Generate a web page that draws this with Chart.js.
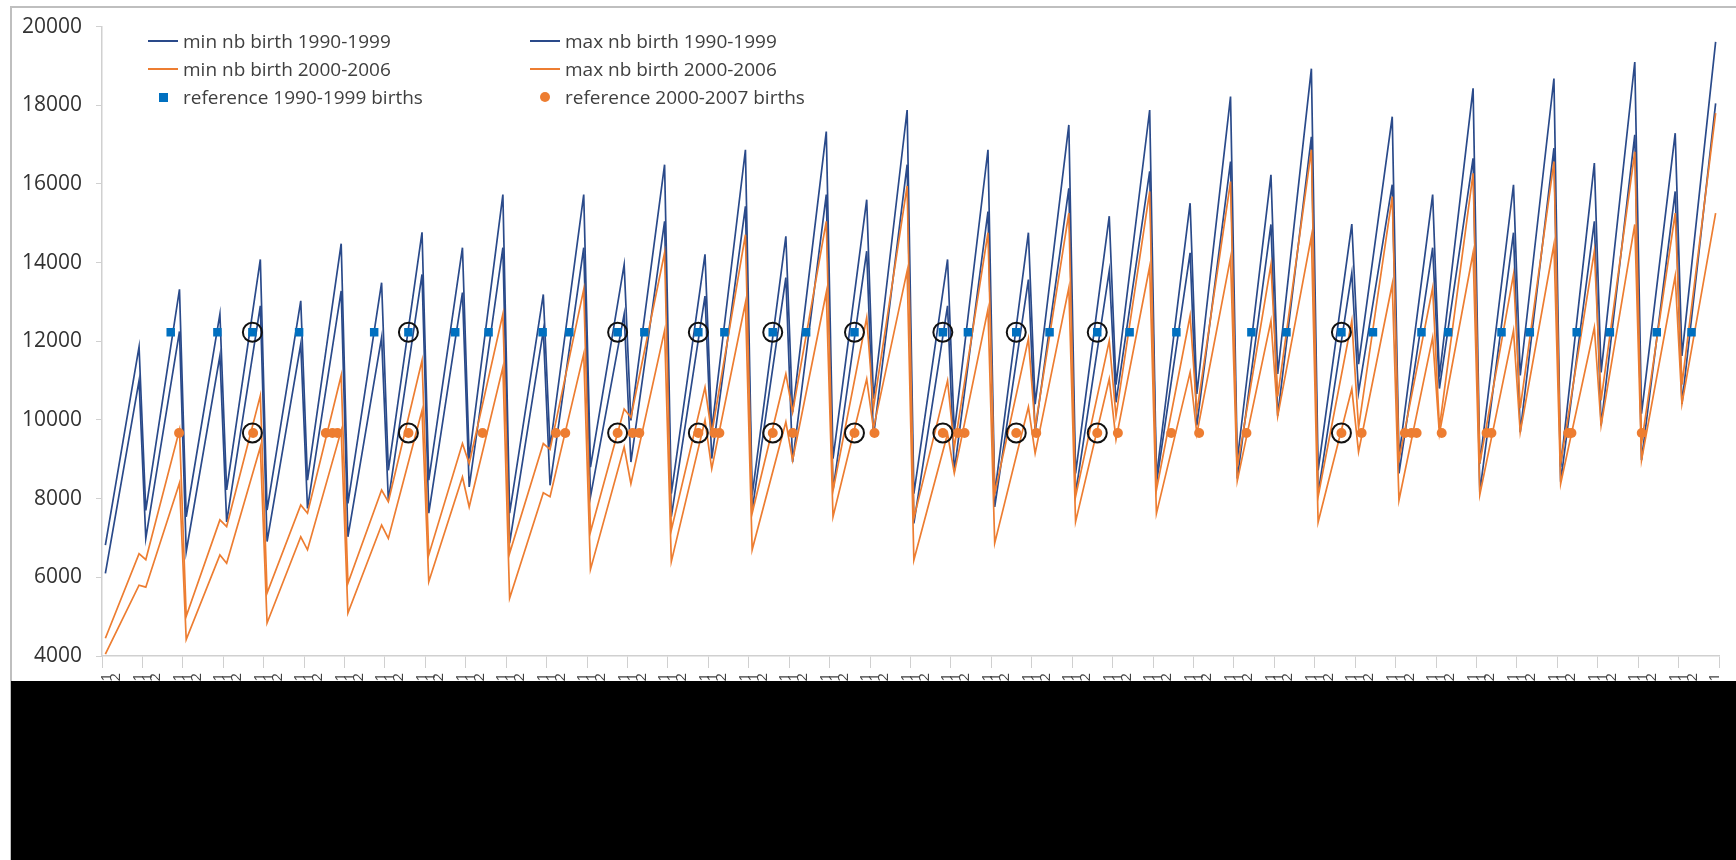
<!DOCTYPE html>
<html>
<head>
<meta charset="utf-8">
<title>nb birth</title>
<script src="https://cdn.jsdelivr.net/npm/chart.js@4.4.1/dist/chart.umd.min.js"></script>
<style>
  html, body { margin: 0; padding: 0; background: #fff; }
  #wrap { position: relative; width: 1736px; height: 860px; overflow: hidden; font-family: 'Open Sans', sans-serif; }
  #frame { position: absolute; left: 10px; top: 6px; width: 1740px; height: 900px; border: 2px solid #BFBFBF; box-sizing: border-box; }
  #birthChart { position: absolute; left: 0; top: 0; }
  #legend { position: absolute; left: 148px; top: 27px; display: grid; grid-template-columns: 382px 320px; grid-auto-rows: 28px; }
  #legend .item { display: flex; align-items: center; font-size: 19px; color: #404040; white-space: nowrap; }
  #legend .key { position: relative; width: 30px; height: 12px; margin-right: 5px; }
  #legend .key i { position: absolute; display: block; }
  #cut { position: absolute; left: 11px; top: 681px; width: 1725px; height: 179px; background: #000; }
</style>
</head>
<body>
<div id="wrap">
  <div id="frame"></div>
  <canvas id="birthChart" width="1736" height="860"></canvas>
  <div id="legend"></div>
  <div id="cut"></div>
</div>
<script>
// one low (just after the tick) and one high (just before the next tick) per interval
var bMaxLo = [6820, 7700, 7540, 8220, 7710, 8470, 7880, 8720, 8470, 9020,
              7630, 9300, 8800, 9990, 8130, 9740, 8090, 10200, 9020, 10540,
              8130, 9700, 8130, 10400, 8640, 10900, 8550, 10660, 8970, 11170,
              8720, 11420, 9060, 11100, 8890, 11130, 8810, 11210, 10160, 11630];
var bMaxHi = [11860, 13320, 12690, 14080, 13030, 14480, 13490, 14770, 14380, 15730,
              13190, 15730, 13950, 16490, 14210, 16870, 14670, 17330, 15600, 17880,
              14080, 16870, 14760, 17500, 15180, 17880, 15510, 18220, 16230, 18930,
              14980, 17710, 15730, 18430, 15980, 18680, 16530, 19100, 17290, 19610];
var bMinLo = [6100, 6990, 6650, 7410, 6910, 7750, 7030, 7960, 7630, 8300,
              6870, 8340, 8050, 8930, 7540, 9020, 7710, 8930, 8220, 9570,
              7370, 8700, 7790, 9700, 8130, 10450, 8380, 9860, 8510, 10110,
              8130, 10700, 8640, 10800, 8170, 9690, 8430, 9860, 8980, 10410];
var bMinHi = [11000, 12250, 11630, 12900, 11930, 13280, 12100, 13700, 13240, 14380,
              12270, 14380, 12690, 15050, 13150, 15430, 13620, 15730, 14290, 16490,
              12900, 15300, 13570, 15890, 13790, 16320, 14250, 16570, 14970, 17200,
              13740, 15980, 14380, 16650, 14760, 16910, 15050, 17250, 15810, 18050];
var oMaxLo = [4450, 6450, 5010, 7290, 5600, 7630, 5850, 7920, 6570, 8890,
              6610, 9250, 7150, 10070, 7200, 9650, 7630, 10200, 8200, 10300,
              7500, 9300, 8130, 9800, 8050, 10100, 8220, 10200, 8800, 10600,
              8050, 9800, 8980, 9800, 8900, 10300, 8890, 10500, 9400, 10900];
var oMaxHi = [6600, 9750, 7460, 10620, 7840, 11130, 8220, 11510, 9400, 12690,
              9400, 13320, 10280, 14250, 10830, 14710, 11170, 15050, 12600, 15950,
              11000, 14760, 12060, 15260, 12010, 15810, 12650, 16060, 13950, 16870,
              12520, 15680, 13360, 16270, 13700, 16570, 14290, 16820, 15260, 17800];
var oMinLo = [4050, 5750, 4420, 6360, 4840, 6700, 5090, 6990, 5890, 7790,
              5470, 8050, 6200, 8380, 6400, 8760, 6700, 8980, 7540, 9780,
              6440, 8650, 6870, 9150, 7410, 9500, 7620, 9650, 8450, 10100,
              7400, 9190, 7960, 9650, 8100, 9690, 8380, 9860, 8980, 10410];
var oMinHi = [5800, 8400, 6570, 9310, 7030, 9730, 7330, 10240, 8550, 11340,
              8150, 11680, 9310, 12270, 9990, 12980, 9950, 13240, 11040, 13790,
              9650, 12810, 10330, 13360, 11040, 13900, 11210, 14120, 12520, 14670,
              10790, 13450, 12100, 14250, 12270, 14460, 12350, 14970, 13660, 15260];

var ref1990Level = 12230;
var ref2000Level = 9670;
var ref1990X = [1.70, 2.855, 3.72, 4.876, 6.733, 7.58, 8.738, 9.563, 10.90, 11.56,
                12.755, 13.416, 14.752, 15.396, 16.592, 17.418, 18.614, 20.80, 21.42, 22.616,
                23.44, 24.62, 25.42, 26.577, 28.433, 29.30, 30.66, 31.44, 32.64, 33.30,
                34.62, 35.32, 36.48, 37.30, 38.46, 39.32];
var ref2000X = [1.906, 3.738, 5.537, 5.70, 5.825, 7.58, 9.414, 11.23, 11.46, 12.755,
                13.127, 13.292, 14.752, 15.149, 15.272, 16.592, 17.087, 18.614, 19.109, 20.80,
                21.17, 21.337, 22.616, 23.11, 24.62, 25.13, 26.45, 27.14, 28.31, 30.66,
                31.16, 32.23, 32.39, 32.52, 33.14, 34.25, 34.37, 36.27, 36.35, 38.09];
var circledX = [3.72, 7.58, 12.755, 14.752, 16.592, 18.614, 20.80, 22.616, 24.62, 30.66];

var xTickText = ['1', '2', '1'];
var yTicks = [4000, 6000, 8000, 10000, 12000, 14000, 16000, 18000, 20000];

var app = {};
app.Main = {
    navy: '#2A4A8A',
    orange: '#ED7D31',
    font: "'Open Sans', sans-serif",
    init: function () {
        var file = this;
        file.lineChartBirth();
        file.legendBirth();
    },
    sawPoints: function (lo, hi) {
        var pts = [];
        for (var k = 0; k < lo.length; k++) {
            pts.push({ x: k + 1 / 12, y: lo[k] });
            pts.push({ x: k + 11 / 12, y: hi[k] });
        }
        return pts;
    },
    levelPoints: function (xs, level) {
        return xs.map(function (x) { return { x: x, y: level }; });
    },
    lineChartBirth: function () {
        var file = this;
        var labelAt = {};
        var datasets = [
            { label: 'min nb birth 1990-1999', data: file.sawPoints(bMinLo, bMinHi), borderColor: file.navy, borderWidth: 1.7, pointRadius: 0, order: 3, key: 'line' },
            { label: 'max nb birth 1990-1999', data: file.sawPoints(bMaxLo, bMaxHi), borderColor: file.navy, borderWidth: 1.7, pointRadius: 0, order: 3, key: 'line' },
            { label: 'min nb birth 2000-2006', data: file.sawPoints(oMinLo, oMinHi), borderColor: file.orange, borderWidth: 1.7, pointRadius: 0, order: 2, key: 'line' },
            { label: 'max nb birth 2000-2006', data: file.sawPoints(oMaxLo, oMaxHi), borderColor: file.orange, borderWidth: 1.7, pointRadius: 0, order: 2, key: 'line' },
            { label: 'reference 1990-1999 births', data: file.levelPoints(ref1990X, ref1990Level), showLine: false, pointStyle: 'rect', pointRadius: 6, backgroundColor: '#0070C0', borderColor: '#0070C0', borderWidth: 0, order: 1, key: 'rect' },
            { label: 'reference 2000-2007 births', data: file.levelPoints(ref2000X, ref2000Level), showLine: false, pointStyle: 'circle', pointRadius: 5, backgroundColor: file.orange, borderColor: file.orange, borderWidth: 0, order: 1, key: 'circle' },
            { label: '', data: file.levelPoints(circledX, ref1990Level).concat(file.levelPoints(circledX, ref2000Level)), showLine: false, pointStyle: 'circle', pointRadius: 9.5, backgroundColor: 'rgba(0,0,0,0)', borderColor: '#111', borderWidth: 2, order: 0, key: 'none' }
        ];
        file.datasets = datasets;

        var ctx = document.getElementById('birthChart').getContext('2d');
        new Chart(ctx, {
            type: 'line',
            data: { datasets: datasets },
            options: {
                responsive: false,
                animation: false,
                events: [],
                layout: { padding: { left: 0, top: 24, right: 17, bottom: 0 } },
                elements: { line: { tension: 0, fill: false } },
                plugins: { legend: { display: false }, tooltip: { enabled: false } },
                scales: {
                    x: {
                        type: 'linear',
                        min: 0,
                        max: 40,
                        afterBuildTicks: function (scale) {
                            var t = [];
                            var offs = [0.12, 0.34, 0.9];
                            for (var k = 0; k <= 40; k++) {
                                t.push({ value: k });
                                if (k < 40) {
                                    for (var i = 0; i < xTickText.length; i++) {
                                        var v = k + offs[i];
                                        labelAt[v.toFixed(3)] = xTickText[i];
                                        t.push({ value: v });
                                    }
                                }
                            }
                            t.sort(function (a, b) { return a.value - b.value; });
                            scale.ticks = t;
                        },
                        afterFit: function (scale) {
                            scale.height = 204;
                            scale.paddingLeft = 0;
                            scale.paddingRight = 0;
                        },
                        grid: {
                            drawOnChartArea: false,
                            drawTicks: true,
                            tickLength: 12,
                            color: function (c) {
                                return c.tick && Number.isInteger(c.tick.value) ? '#D0D0D0' : 'rgba(0,0,0,0)';
                            }
                        },
                        border: { color: '#D0D0D0', width: 1.5 },
                        ticks: {
                            autoSkip: false,
                            minRotation: 90,
                            maxRotation: 90,
                            padding: 5,
                            color: '#404040',
                            font: { family: file.font, size: 15 },
                            callback: function (value) {
                                return labelAt[Number(value).toFixed(3)] || '';
                            }
                        }
                    },
                    y: {
                        min: 4000,
                        max: 20000,
                        afterBuildTicks: function (scale) {
                            scale.ticks = yTicks.map(function (v) { return { value: v }; });
                        },
                        afterFit: function (scale) { scale.width = 102; },
                        grid: { drawOnChartArea: false, drawTicks: true, tickLength: 6, color: '#D0D0D0' },
                        border: { color: '#D0D0D0', width: 1.5 },
                        ticks: {
                            padding: 14,
                            color: '#333333',
                            font: { family: file.font, size: 21 },
                            callback: function (value) { return String(value); }
                        }
                    }
                }
            }
        });
    },
    legendBirth: function () {
        var box = document.getElementById('legend');
        this.datasets.forEach(function (ds) {
            if (ds.key === 'none') return;
            var item = document.createElement('div');
            item.className = 'item';
            var key = document.createElement('span');
            key.className = 'key';
            var mark = document.createElement('i');
            if (ds.key === 'line') {
                mark.style.cssText = 'left:0;top:5px;width:30px;height:2px;background:' + ds.borderColor;
            } else if (ds.key === 'rect') {
                mark.style.cssText = 'left:11px;top:2px;width:9px;height:9px;background:' + ds.backgroundColor;
            } else {
                mark.style.cssText = 'left:10px;top:1px;width:10px;height:10px;border-radius:50%;background:' + ds.backgroundColor;
            }
            key.appendChild(mark);
            var text = document.createElement('span');
            text.textContent = ds.label;
            item.appendChild(key);
            item.appendChild(text);
            box.appendChild(item);
        });
    }
};

document.addEventListener('DOMContentLoaded', function () {
    // wait for the installed font so the canvas text uses it
    document.fonts.load("21px 'Open Sans'").then(function () {
        app.Main.init();
    }, function () {
        app.Main.init();
    });
});
</script>
</body>
</html>
